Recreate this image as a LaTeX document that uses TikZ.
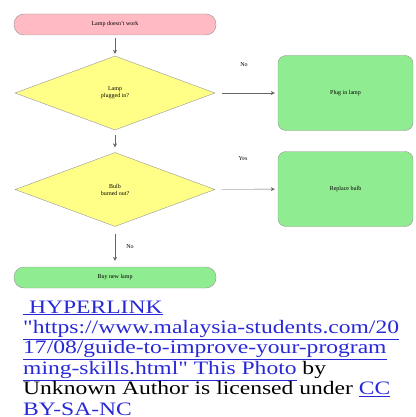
\documentclass[tikz,border=0pt]{standalone}
\usepackage{fontspec}
\setmainfont{Liberation Serif}
\usepackage{graphicx}
\usetikzlibrary{shapes.geometric, arrows.meta}

\definecolor{termpink}{RGB}{255,186,196}
\definecolor{asksyellow}{RGB}{255,255,136}
\definecolor{dogreen}{RGB}{144,236,144}
\definecolor{edgegray}{RGB}{150,150,150}
\definecolor{linkblue}{RGB}{40,40,215}

\newcommand{\wideline}[1]{\scalebox{1.24}[1]{#1}}
\newcommand{\linkline}[1]{\wideline{\color{linkblue}\underline{#1}}}
\newcommand{\creditfont}{\fontsize{19}{20.4}\selectfont\lineskiplimit=-20pt\relax\lineskip=0pt\relax}

\begin{document}
\begin{tikzpicture}[x=1pt, y=-1pt, every path/.style={thin},
	terminal/.style={draw=edgegray, rounded corners=10pt, minimum width=202pt, minimum height=21pt, inner sep=0pt, font=\fontsize{6}{7}\selectfont},
	decision/.style={draw=edgegray, fill=asksyellow, diamond, minimum width=200pt, minimum height=74pt, inner sep=0pt, align=center, font=\fontsize{6}{7}\selectfont},
	action/.style={draw=edgegray, fill=dogreen, rounded corners=8pt, minimum width=135pt, minimum height=75pt, inner sep=0pt, font=\fontsize{6}{7}\selectfont},
	flow/.style={draw=black!60, -{Stealth[length=4pt,width=4pt]}},
	answer/.style={font=\fontsize{6}{7}\selectfont}]
	\useasboundingbox (0,0) rectangle (415,417);
	\node[terminal, fill=termpink] (start) at (115,24.5) {Lamp doesn't work};
	\node[decision] (plugged) at (115,93) {Lamp\\plugged in?};
	\node[action] (plugin) at (345.5,93) {Plug in lamp};
	\node[decision] (burned) at (115,189.5) {Bulb\\burned out?};
	\node[action] (replace) at (345.5,189) {Replace bulb};
	\node[terminal, fill=dogreen] (buy) at (115,277.5) {Buy new lamp};
	\node[answer] (no1) at (244,65) {No};
	\node[answer] (yes2) at (243,159) {Yes};
	\node[answer] (no3) at (130,247) {No};
	
	\draw[flow, shorten <=3pt, shorten >=2pt] (start) -- (plugged);
	\draw[flow, shorten <=7pt, shorten >=3pt] (plugged) -- (plugin);
	\draw[flow, shorten <=5pt, shorten >=5pt] (plugged) -- (burned);
	\draw[flow, shorten <=7pt, shorten >=3pt] (burned) -- (replace);
	\draw[flow, shorten <=7pt, shorten >=6pt] (burned) -- (buy);
	
	\node[anchor=north west, align=left, inner sep=0pt, font=\creditfont] (credit) at (23,300.5)
	{\linkline{\ HYPERLINK}\\
	\linkline{\textquotedbl https://www.malaysia-students.com/20}\\
	\linkline{17/08/guide-to-improve-your-program}\\
	\linkline{ming-skills.html\textquotedbl{} This Photo}\wideline{ by}\\
	\wideline{Unknown Author is licensed under }\linkline{CC}\\
	\linkline{BY-SA-NC}};
\end{tikzpicture}
\end{document}
